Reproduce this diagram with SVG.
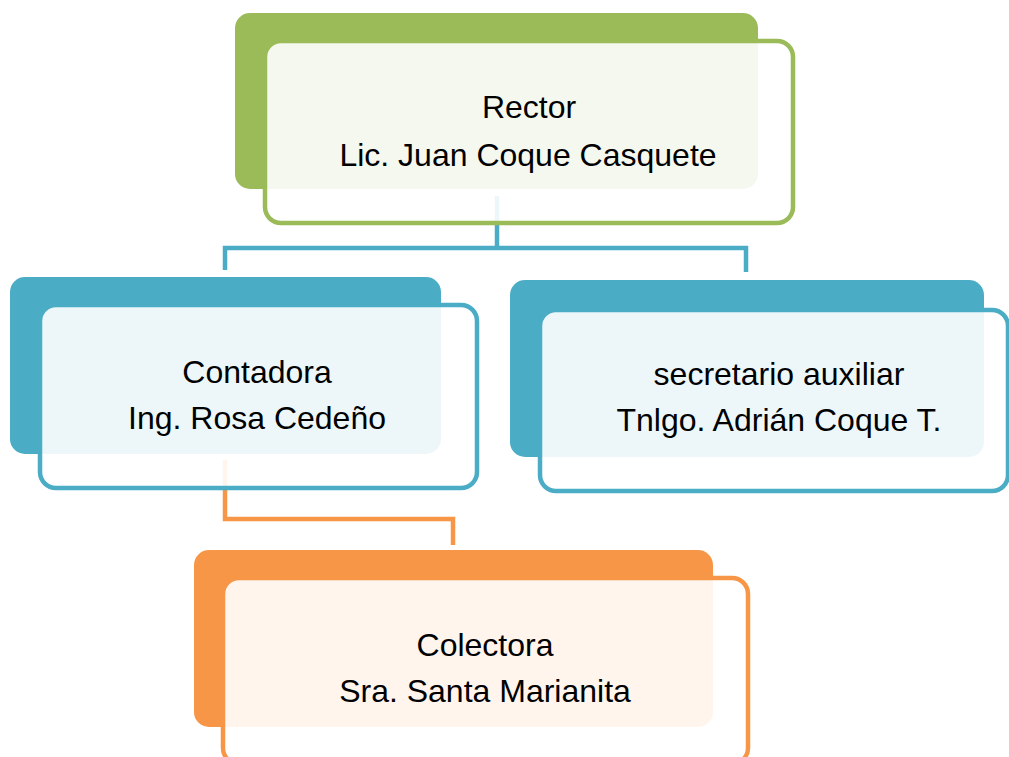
<svg xmlns="http://www.w3.org/2000/svg" width="1009" height="757" viewBox="0 0 1009 757">
<style>
.t{font-family:"Liberation Sans",Arial,sans-serif;font-size:32px;fill:#000;text-anchor:middle}
.fr{fill:#fff;fill-opacity:0.9;stroke-width:4.5}
.cn{fill:none;stroke-width:4.5}
</style>
<rect width="1009" height="757" fill="#fff"/>
<g id="connectors">
<path class="cn" stroke="#4BACC6" d="M225 270 V248 H746 V272 M497 196 V248"/>
<path class="cn" stroke="#F79646" d="M225 460 V519 H453 V545"/>
</g>
<g id="rector">
<rect x="235" y="13" width="523" height="176" rx="15" fill="#9BBB59"/>
<rect class="fr" x="265" y="41" width="528" height="182" rx="16" stroke="#9BBB59"/>
<text class="t" x="529" y="118">Rector</text>
<text class="t" x="528" y="166">Lic. Juan Coque Casquete</text>
</g>
<g id="contadora">
<rect x="10" y="277" width="431" height="177" rx="15" fill="#4BACC6"/>
<rect class="fr" x="40" y="305" width="437" height="183" rx="16" stroke="#4BACC6"/>
<text class="t" x="257" y="383">Contadora</text>
<text class="t" x="257" y="429">Ing. Rosa Cedeño</text>
</g>
<g id="secretario">
<rect x="510" y="280" width="474" height="177" rx="15" fill="#4BACC6"/>
<rect class="fr" x="540" y="310" width="468" height="181" rx="16" stroke="#4BACC6"/>
<text class="t" x="779" y="385">secretario auxiliar</text>
<text class="t" x="779" y="431">Tnlgo. Adrián Coque T.</text>
</g>
<g id="colectora">
<rect x="194" y="550" width="519" height="177" rx="15" fill="#F79646"/>
<rect class="fr" x="223" y="578" width="525" height="186" rx="16" stroke="#F79646"/>
<text class="t" x="485" y="656">Colectora</text>
<text class="t" x="485" y="702">Sra. Santa Marianita</text>
</g>
</svg>
